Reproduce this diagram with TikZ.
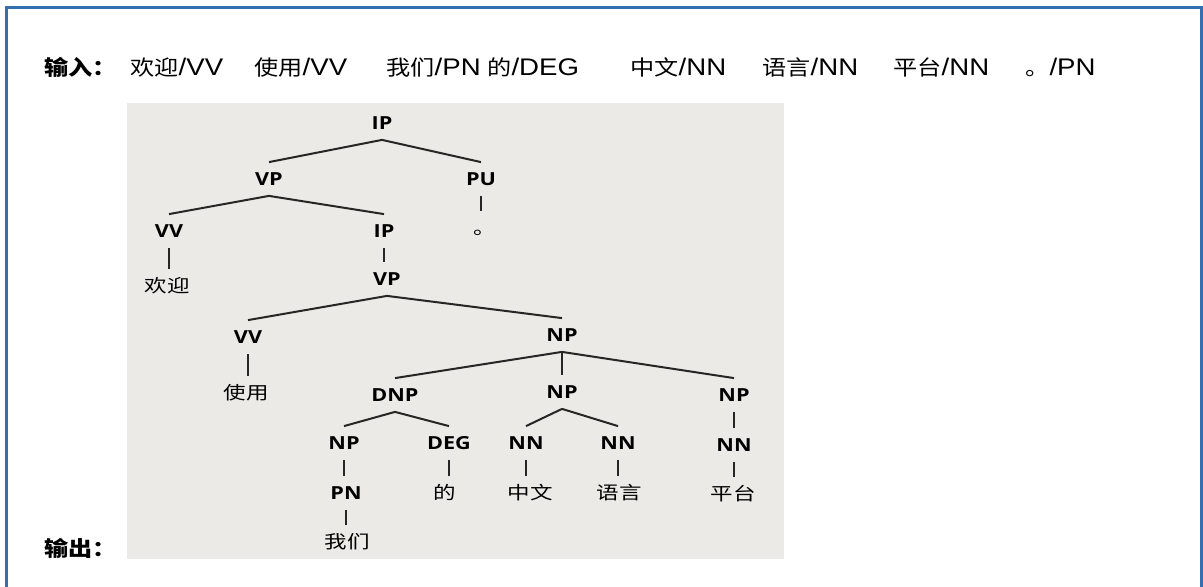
\documentclass[tikz,border=0pt]{standalone}
\usepackage{fontspec}
\setmainfont{Liberation Sans}[FakeStretch=1.15]
\newfontfamily\cjk{Noto Sans CJK SC}[FakeStretch=1.15]
\newfontfamily\treefont{Open Sans}[FakeStretch=1.2]
\newfontfamily\treecjk{Noto Sans CJK SC}[FakeStretch=1.25]
\usetikzlibrary{positioning}

\definecolor{framecol}{RGB}{54,110,178}
\definecolor{panelgray}{RGB}{235,234,231}

\tikzset{
  lead/.style={font=\cjk\bfseries\fontsize{10.5}{12}\selectfont, inner sep=0pt},
  tok/.style={font=\fontsize{12}{14}\selectfont, inner sep=0pt},
  tag/.style={font=\treefont\bfseries\fontsize{9}{10}\selectfont,
    inner xsep=1pt, inner ysep=5pt, text height=6.5pt, text depth=0pt},
  word/.style={tag, font=\treecjk\fontsize{9}{10}\selectfont},
  branch/.style={line width=1pt, black!85},
}

\begin{document}
\begin{tikzpicture}[x=0.5pt, y=-0.5pt]
  \useasboundingbox (0,0) rectangle (1203,587);
  % ---------- FRAME ----------
  \draw[framecol, line width=1.5pt] (6,595) -- (6,7.5) -- (1201.5,7.5) -- (1201.5,595);
  % ---------- INPUT ----------
  \node[lead, anchor=base west] (in) at (44,76) {输入：};
  \foreach \x/\w/\t [count=\i] in {130/欢迎/VV, 254/使用/VV, 386/我们/PN, 487/的/DEG,
      630/中文/NN, 762/语言/NN, 893/平台/NN, 1025/。/PN}
    \node[tok, anchor=base west] (tok\i) at (\x,76) {{\cjk\fontsize{10.5}{12}\selectfont\w}/\t};
  % ---------- OUTPUT ----------
  \node[lead, anchor=base west] (out) at (44,556) {输出：};
  \fill[panelgray] (127,103) rectangle (784,559);
  % tree labels
  \node[tag] (IP0) at (382,123) {IP};
  \node[tag] (VP0) at (269,179) {VP};
  \node[tag] (PU) at (481,179) {PU};
  \node[tag] (VV0) at (169,231) {VV};
  \node[tag] (IP1) at (384,231) {IP};
  \node[word] (W0) at (485,228) {。};
  \node[word] (W1) at (167,286) {欢迎};
  \node[tag] (VP1) at (387,279) {VP};
  \node[tag] (VV1) at (248,337) {VV};
  \node[tag] (NP0) at (562,335) {NP};
  \node[word] (W2) at (246,393) {使用};
  \node[tag] (DNP) at (395,395) {DNP};
  \node[tag] (NP1) at (562,392) {NP};
  \node[tag] (NP2) at (734,395) {NP};
  \node[tag] (NP3) at (344,443) {NP};
  \node[tag] (DEG) at (449,443) {DEG};
  \node[tag] (NN0) at (526,443) {NN};
  \node[tag] (NN1) at (618,443) {NN};
  \node[tag] (NN2) at (734,445) {NN};
  \node[tag] (PN) at (346,493) {PN};
  \node[word] (W3) at (445,493) {的};
  \node[word] (W4) at (530,493) {中文};
  \node[word] (W5) at (619,493) {语言};
  \node[word] (W6) at (733,494) {平台};
  \node[word] (W7) at (347,542) {我们};
  % branches
  \foreach \a/\b in {IP0/VP0, IP0/PU, VP0/VV0, VP0/IP1, VP1/VV1, VP1/NP0,
      NP0/DNP, NP0/NP1, NP0/NP2, DNP/NP3, DNP/DEG, NP1/NN0, NP1/NN1}
    \draw[branch] (\a.south) -- (\b.north);
  % unary branches
  \foreach \a/\b in {PU/W0, VV0/W1, IP1/VP1, VV1/W2, NP2/NN2, NP3/PN, DEG/W3,
      NN0/W4, NN1/W5, NN2/W6, PN/W7}
    \draw[branch] (\a.south) -- (\a.south |- \b.north);
\end{tikzpicture}
\end{document}
